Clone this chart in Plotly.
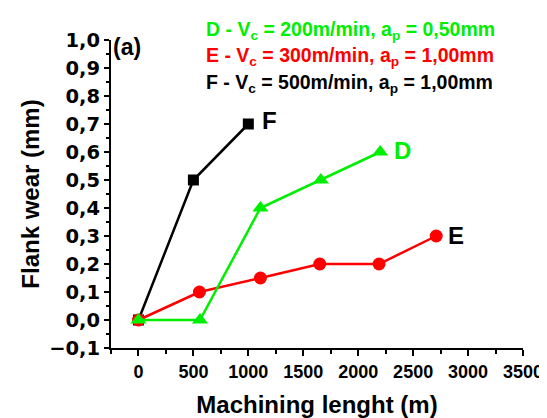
import plotly.graph_objects as go

# Data
f_x = [0, 500, 1000]
f_y = [0.0, 0.5, 0.7]
d_x = [0, 560, 1110, 1660, 2200]
d_y = [0.0, 0.0, 0.4, 0.5, 0.6]
e_x = [0, 555, 1110, 1650, 2190, 2710]
e_y = [0.0, 0.1, 0.15, 0.2, 0.2, 0.3]

y_range = [-0.1, 1.0]
y_step = 0.1
x_range = [-250, 3500]
x_step = 500

GREEN = "#00ee00"
RED = "#ff0000"
BLACK = "#000000"
FONT = "Liberation Sans"
YFONT = "DejaVu Sans"

fig = go.Figure()
fig.add_trace(go.Scatter(x=f_x, y=f_y, mode="lines+markers",
                         line=dict(color=BLACK, width=2.5),
                         marker=dict(symbol="square", size=11, color=BLACK)))
fig.add_trace(go.Scatter(x=e_x, y=e_y, mode="lines+markers",
                         line=dict(color=RED, width=2.5),
                         marker=dict(symbol="circle", size=13, color=RED)))
fig.add_trace(go.Scatter(x=d_x, y=d_y, mode="lines+markers",
                         line=dict(color=GREEN, width=2.5),
                         marker=dict(symbol="triangle-up", size=14, color=GREEN)))

fig.update_xaxes(range=x_range, tickmode="linear", tick0=0, dtick=x_step, tickformat="d",
                 tickfont=dict(family=FONT, size=18, color=BLACK, weight="bold"),
                 showgrid=False, zeroline=False, showline=True, linecolor=BLACK, linewidth=2,
                 ticks="outside", tickwidth=2, ticklen=6, tickcolor=BLACK,
                 minor=dict(dtick=x_step / 2, ticks="outside", ticklen=4, tickwidth=2, tickcolor=BLACK),
                 title=dict(text="<b>Machining lenght (m)</b>", font=dict(family=FONT, size=24, color=BLACK), standoff=16))
fig.update_yaxes(range=y_range, tickmode="linear", tick0=0, dtick=y_step, tickformat=".1f",
                 tickfont=dict(family=YFONT, size=19.5, color=BLACK, weight="bold"),
                 showgrid=False, zeroline=False, showline=True, linecolor=BLACK, linewidth=2,
                 ticks="outside", tickwidth=2, ticklen=5, tickcolor=BLACK,
                 minor=dict(dtick=y_step / 2, ticks="outside", ticklen=3, tickwidth=2, tickcolor=BLACK),
                 title=dict(text="<b>Flank wear (mm)</b>", font=dict(family=FONT, size=24, color=BLACK), standoff=3))

L, R, T, B = 103, 23, 32, 71
W, H = 547, 418
pw, ph = W - L - R, H - T - B

ann = []
ann.append(dict(x=0.0, y=1.0, xref="paper", yref="paper", xanchor="left", yanchor="top",
                xshift=0, yshift=8, text="<b>(a)</b>", showarrow=False,
                font=dict(family=FONT, size=23, color=BLACK)))
legend_lines = [
    ("D - V<sub>c</sub> = 200m/min, a<sub>p</sub> = 0,50mm", GREEN, 22),
    ("E - V<sub>c</sub> = 300m/min, a<sub>p</sub> = 1,00mm", RED, 49),
    ("F - V<sub>c</sub> = 500m/min, a<sub>p</sub> = 1,00mm", BLACK, 76),
]
for txt, col, ypx in legend_lines:
    ann.append(dict(x=(198 - L) / pw, y=1 - (ypx - T) / ph, xref="paper", yref="paper",
                    text="<b>" + txt + "</b>",
                    showarrow=False, xanchor="left", yanchor="middle",
                    font=dict(family=FONT, size=19.5, color=col)))

ann.append(dict(x=f_x[-1], y=f_y[-1], text="<b>F</b>", showarrow=False, xanchor="left",
                xshift=12, yshift=4, font=dict(family=FONT, size=24, color=BLACK)))
ann.append(dict(x=d_x[-1], y=d_y[-1], text="<b>D</b>", showarrow=False, xanchor="left",
                xshift=12, yshift=2, font=dict(family=FONT, size=24, color=GREEN)))
ann.append(dict(x=e_x[-1], y=e_y[-1], text="<b>E</b>", showarrow=False, xanchor="left",
                xshift=10, yshift=1, font=dict(family=FONT, size=24, color=BLACK)))

fig.update_layout(width=W, height=H, margin=dict(l=L, r=R, t=T, b=B),
                  separators=",.",
                  plot_bgcolor="white", paper_bgcolor="white", showlegend=False,
                  annotations=ann)
fig.write_html("out.html")
